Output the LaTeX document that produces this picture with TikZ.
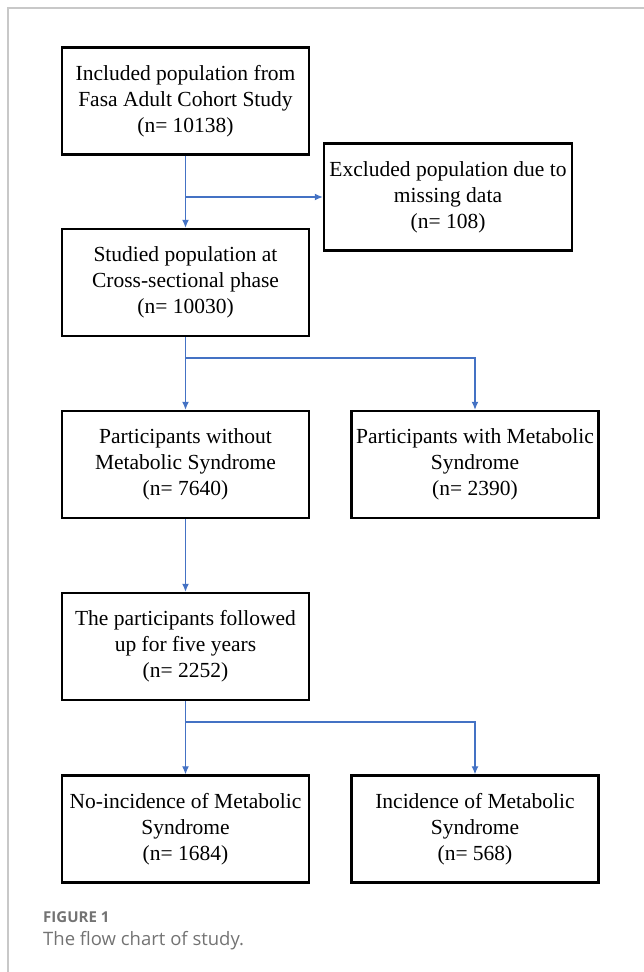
\documentclass[tikz,border=0pt]{standalone}
\usepackage{fontspec}
\setmainfont{Liberation Serif}
\newfontfamily\capfont{Open Sans}
\usepackage{tikz}
\usetikzlibrary{arrows.meta, positioning}

\definecolor{flowblue}{RGB}{68,114,196}
\definecolor{framegray}{RGB}{200,200,200}
\definecolor{capgray}{RGB}{115,115,115}

\begin{document}
\begin{tikzpicture}[x=1pt, y=-1pt,
	stagebox/.style={draw=black, line width=2.4pt, minimum width=247pt, minimum height=107pt,
		align=center, inner sep=2pt, font=\fontsize{21.5}{26}\selectfont},
	flow/.style={draw=flowblue, line width=1.2pt, -{Latex[length=8pt,width=7pt]}}]
\useasboundingbox (0,0) rectangle (644,972);
	% frame of the figure card
	\draw[framegray, line width=1.5pt] (8,972) -- (8,8) -- (644,8);
	% boxes
	\node[stagebox] (incl) at (185.5,101) {Included population from\\Fasa Adult Cohort Study\\(n= 10138)};
	\node[stagebox, minimum width=248pt] (excl) at (448,197) {Excluded population due to\\missing data\\(n= 108)};
	\node[stagebox] (stud) at (185.5,282.5) {Studied population at\\Cross-sectional phase\\(n= 10030)};
	\node[stagebox] (nomets) at (185.5,464.5) {Participants without\\Metabolic Syndrome\\(n= 7640)};
	\node[stagebox] (mets) at (475,464.5) {Participants with Metabolic\\Syndrome\\(n= 2390)};
	\node[stagebox] (follow) at (185.5,646.5) {The participants followed\\up for five years\\(n= 2252)};
	\node[stagebox] (noinc) at (185.5,829) {No-incidence of Metabolic\\Syndrome\\(n= 1684)};
	\node[stagebox] (inc) at (475,829) {Incidence of Metabolic\\Syndrome\\(n= 568)};
	% branch points
	\coordinate (split1) at (185.5,358);
	\coordinate (split2) at (185.5,722);
	% connectors
	\draw[flow] (incl.south) -- (stud.north);
	\draw[flow] (incl.south |- excl.west) -- (excl.west);
	\draw[flow] (stud.south) -- (nomets.north);
	\draw[flow] (split1) -| (mets.north);
	\draw[flow] (nomets.south) -- (follow.north);
	\draw[flow] (follow.south) -- (noinc.north);
	\draw[flow] (split2) -| (inc.north);
	% caption
	\node[anchor=base west, inner sep=0pt, text=capgray, font=\capfont\bfseries\fontsize{15}{18}\selectfont] (fig) at (43,922) {FIGURE 1};
	\node[anchor=base west, inner sep=0pt, text=capgray, font=\capfont\fontsize{18.5}{22}\selectfont] (cap) at (43,945) {The flow chart of study.};
\end{tikzpicture}
\end{document}
